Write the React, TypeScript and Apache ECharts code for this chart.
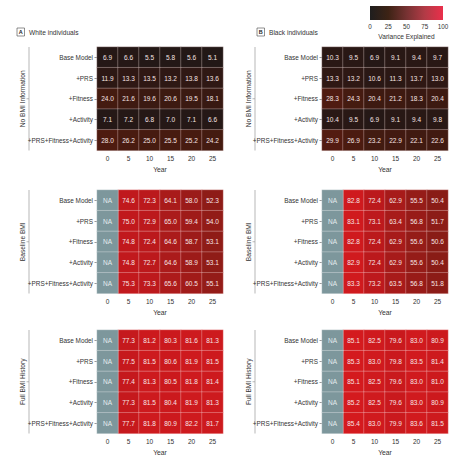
import React, { useEffect, useRef } from "react";
import * as echarts from "echarts";

const years = ["0", "5", "10", "15", "20", "25"];
const models = ["Base Model", "+PRS", "+Fitness", "+Activity", "+PRS+Fitness+Activity"];
const sections = ["No BMI Information", "Baseline BMI", "Full BMI History"];
const panelTitles = [
  { letter: "A", text: "White individuals" },
  { letter: "B", text: "Black individuals" },
];
const colorbarTicks = [0, 25, 50, 75, 100];

type Row = (number | null)[];

const whiteNoBmi: Row[] = [
  [6.9, 6.6, 5.5, 5.8, 5.6, 5.1],
  [11.9, 13.3, 13.5, 13.2, 13.8, 13.6],
  [24.0, 21.6, 19.6, 20.6, 19.5, 18.1],
  [7.1, 7.2, 6.8, 7.0, 7.1, 6.6],
  [28.0, 26.2, 25.0, 25.5, 25.2, 24.2],
];
const whiteBaseline: Row[] = [
  [null, 74.6, 72.3, 64.1, 58.0, 52.3],
  [null, 75.0, 72.9, 65.0, 59.4, 54.0],
  [null, 74.8, 72.4, 64.6, 58.7, 53.1],
  [null, 74.8, 72.7, 64.6, 58.9, 53.1],
  [null, 75.3, 73.3, 65.6, 60.5, 55.1],
];
const whiteFull: Row[] = [
  [null, 77.3, 81.2, 80.3, 81.6, 81.3],
  [null, 77.5, 81.5, 80.6, 81.9, 81.5],
  [null, 77.4, 81.3, 80.5, 81.8, 81.4],
  [null, 77.3, 81.5, 80.4, 81.9, 81.3],
  [null, 77.7, 81.8, 80.9, 82.2, 81.7],
];
const blackNoBmi: Row[] = [
  [10.3, 9.5, 6.9, 9.1, 9.4, 9.7],
  [13.3, 13.2, 10.6, 11.3, 13.7, 13.0],
  [28.3, 24.3, 20.4, 21.2, 18.3, 20.4],
  [10.4, 9.5, 6.9, 9.1, 9.4, 9.8],
  [29.9, 26.9, 23.2, 22.9, 22.1, 22.6],
];
const blackBaseline: Row[] = [
  [null, 82.8, 72.4, 62.9, 55.5, 50.4],
  [null, 83.1, 73.1, 63.4, 56.8, 51.7],
  [null, 82.8, 72.4, 62.9, 55.6, 50.6],
  [null, 82.9, 72.4, 62.9, 55.6, 50.4],
  [null, 83.3, 73.2, 63.5, 56.8, 51.8],
];
const blackFull: Row[] = [
  [null, 85.1, 82.5, 79.6, 83.0, 80.9],
  [null, 85.3, 83.0, 79.8, 83.5, 81.4],
  [null, 85.1, 82.5, 79.6, 83.0, 81.0],
  [null, 85.2, 82.5, 79.6, 83.0, 80.9],
  [null, 85.4, 83.0, 79.9, 83.6, 81.5],
];

const panelsData: Row[][][] = [
  [whiteNoBmi, whiteBaseline, whiteFull],
  [blackNoBmi, blackBaseline, blackFull],
];

const FONT = "'Liberation Sans', Arial, sans-serif";
const cellColors = [
  "#1b1818", "#2d1814", "#461b10", "#671c12", "#881c16",
  "#a61b1a", "#c1191d", "#d81a1e", "#e52a40",
];
const naColor = "#7d979c";

export default function App() {
  const ref = useRef<HTMLDivElement>(null);

  useEffect(() => {
    if (!ref.current) return;
    const chart = echarts.init(ref.current, undefined, { renderer: "svg" });

    const colLeft = [97, 322];
    const gridW = 126;
    const rowTop = [47, 190, 330];
    const gridH = 103.5;

    const grids: any[] = [];
    const xAxes: any[] = [];
    const yAxes: any[] = [];
    const series: any[] = [];
    const valueSeriesIdx: number[] = [];
    const naSeriesIdx: number[] = [];
    const graphics: any[] = [];

    panelsData.forEach((panel, c) => {
      panel.forEach((rows, r) => {
        const gi = grids.length;
        grids.push({ left: colLeft[c], top: rowTop[r], width: gridW, height: gridH });
        xAxes.push({
          gridIndex: gi,
          type: "category",
          data: years,
          axisLine: { show: false },
          axisTick: { show: false },
          splitLine: { show: false },
          axisLabel: { fontSize: 6.5, color: "#333", margin: 4, fontFamily: FONT },
          name: "Year",
          nameLocation: "middle",
          nameGap: 15.5,
          nameTextStyle: { fontSize: 6.8, color: "#333", fontFamily: FONT },
        });
        yAxes.push({
          gridIndex: gi,
          type: "category",
          data: models,
          inverse: true,
          axisLine: { show: false },
          axisTick: { show: true, length: 2.5, alignWithLabel: true, lineStyle: { color: "#555", width: 0.6 } },
          splitLine: { show: false },
          axisLabel: { fontSize: 6.4, color: "#333", margin: 4, fontFamily: FONT },
        });
        const vals: any[] = [];
        const nas: any[] = [];
        rows.forEach((row, yi) => {
          row.forEach((v, xi) => {
            if (v === null) nas.push([xi, yi, 0]);
            else vals.push([xi, yi, v]);
          });
        });
        valueSeriesIdx.push(series.length);
        series.push({
          type: "heatmap",
          xAxisIndex: gi,
          yAxisIndex: gi,
          data: vals,
          itemStyle: { borderColor: "rgba(255,235,235,0.5)", borderWidth: 0.6 },
          label: {
            show: true,
            fontSize: 6.5,
            color: "#f6e4e4",
            fontFamily: FONT,
            formatter: (p: any) => Number(p.value[2]).toFixed(1),
          },
        });
        if (nas.length) {
          naSeriesIdx.push(series.length);
          series.push({
            type: "heatmap",
            xAxisIndex: gi,
            yAxisIndex: gi,
            data: nas,
            itemStyle: { borderColor: "rgba(255,255,255,0.5)", borderWidth: 0.6 },
            label: { show: true, fontSize: 6.5, color: "#e4ecee", fontFamily: FONT, formatter: () => "NA" },
          });
        }

        const lx = c === 0 ? 29 : 255;
        const mid = rowTop[r] + gridH / 2;
        graphics.push({
          type: "line",
          shape: { x1: lx, y1: rowTop[r], x2: lx, y2: rowTop[r] + gridH },
          style: { stroke: "#999", lineWidth: 0.7 },
        });
        graphics.push({
          type: "line",
          shape: { x1: lx - 2.5, y1: mid, x2: lx, y2: mid },
          style: { stroke: "#999", lineWidth: 0.7 },
        });
        graphics.push({
          type: "text",
          x: lx - 7,
          y: mid,
          rotation: Math.PI / 2,
          style: {
            text: sections[r],
            fontSize: 6.6,
            fill: "#333",
            fontFamily: FONT,
            align: "center",
            verticalAlign: "middle",
            textAlign: "center",
            textVerticalAlign: "middle",
          },
        });
      });
    });

    panelTitles.forEach((t, c) => {
      const bx = c === 0 ? 17 : 257;
      graphics.push({
        type: "rect",
        shape: { x: bx, y: 28, width: 7.5, height: 8 },
        style: { fill: "#fff", stroke: "#444", lineWidth: 0.6 },
      });
      graphics.push({
        type: "text",
        x: bx + 3.75,
        y: 32.2,
        style: {
          text: t.letter, fontSize: 5.5, fill: "#222", fontFamily: FONT, fontWeight: "bold",
          align: "center", verticalAlign: "middle", textAlign: "center", textVerticalAlign: "middle",
        },
      });
      graphics.push({
        type: "text",
        x: bx + 12,
        y: 32.2,
        style: {
          text: t.text, fontSize: 6.6, fill: "#333", fontFamily: FONT,
          align: "left", verticalAlign: "middle", textAlign: "left", textVerticalAlign: "middle",
        },
      });
    });

    const cbX = 370, cbY = 6, cbW = 73, cbH = 14;
    graphics.push({
      type: "rect",
      shape: { x: cbX, y: cbY, width: cbW, height: cbH },
      style: {
        fill: new echarts.graphic.LinearGradient(0, 0, 1, 0, [
          { offset: 0, color: "#1f1e1e" },
          { offset: 0.25, color: "#3d2315" },
          { offset: 0.5, color: "#763232" },
          { offset: 0.75, color: "#b23b46" },
          { offset: 1, color: "#ea2f4b" },
        ]),
      },
    });
    colorbarTicks.forEach((t) => {
      graphics.push({
        type: "text",
        x: cbX + (t / 100) * cbW,
        y: cbY + cbH + 6,
        style: {
          text: String(t), fontSize: 6.3, fill: "#333", fontFamily: FONT,
          align: "center", verticalAlign: "middle", textAlign: "center", textVerticalAlign: "middle",
        },
      });
    });
    graphics.push({
      type: "text",
      x: cbX + cbW / 2,
      y: cbY + cbH + 16,
      style: {
        text: "Variance Explained", fontSize: 6.6, fill: "#333", fontFamily: FONT,
        align: "center", verticalAlign: "middle", textAlign: "center", textVerticalAlign: "middle",
      },
    });

    chart.setOption({
      animation: false,
      backgroundColor: "#fff",
      textStyle: { fontFamily: FONT },
      grid: grids,
      xAxis: xAxes,
      yAxis: yAxes,
      visualMap: [
        {
          show: false,
          type: "continuous",
          min: 0,
          max: 100,
          seriesIndex: valueSeriesIdx,
          inRange: { color: cellColors },
        },
        {
          show: false,
          type: "continuous",
          min: 0,
          max: 1,
          seriesIndex: naSeriesIdx,
          inRange: { color: [naColor, naColor] },
        },
      ],
      series,
      graphic: graphics,
    });

    return () => chart.dispose();
  }, []);

  return (
    <div
      ref={ref}
      style={{ position: "fixed", left: 0, top: 0, width: 467, height: 459, background: "#fff" }}
    />
  );
}
